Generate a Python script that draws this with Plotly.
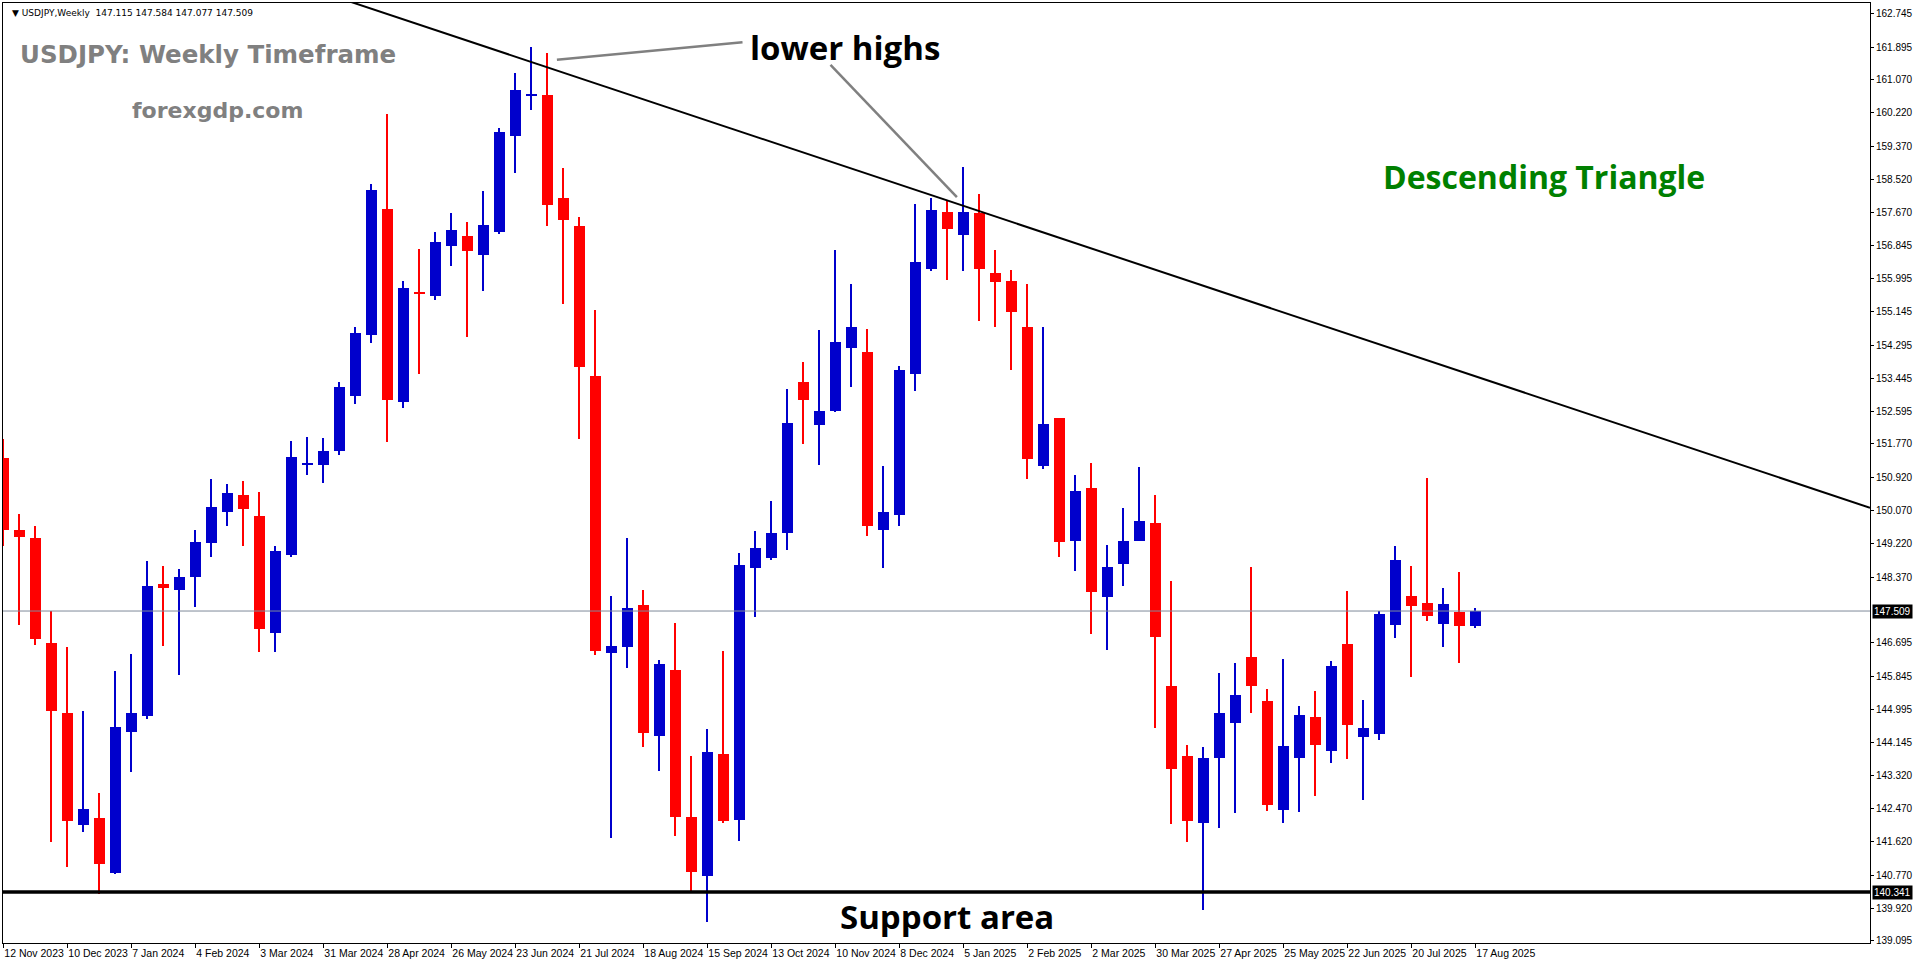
import plotly.graph_objects as go

open_ = [151.41,149.58,149.37,146.69,144.91,142.05,142.23,140.83,144.42,144.83,
         148.20,148.05,148.38,149.24,150.04,150.47,149.93,146.95,148.94,151.23,
         151.23,151.59,152.99,154.55,157.77,152.84,155.62,155.55,156.82,157.08,
         156.59,157.18,159.63,160.66,160.67,158.05,157.33,153.50,146.44,146.59,
         147.66,144.32,146.00,142.26,140.75,143.86,142.18,148.61,148.86,149.50,
         153.35,152.25,152.61,154.22,154.12,149.58,149.96,153.56,156.23,157.69,
         157.10,157.66,156.13,155.93,154.75,151.21,152.43,149.30,150.65,147.87,
         148.71,149.30,149.75,145.60,143.81,142.10,143.76,144.65,146.34,145.21,
         142.43,143.76,144.81,143.94,146.67,144.30,144.37,147.15,147.89,147.71,
         147.18,147.48,147.115]
high = [151.90,149.98,149.68,147.51,146.59,144.96,142.87,145.98,146.41,148.79,
        148.66,148.58,149.58,150.88,150.75,150.83,150.55,149.17,151.85,151.95,
        151.92,153.35,154.75,158.40,160.19,155.93,156.74,157.18,157.66,157.43,
        158.22,159.83,161.23,161.90,161.74,158.81,157.56,155.19,147.89,149.37,
        148.05,146.26,147.20,143.81,144.50,146.49,148.99,149.55,150.32,153.17,
        153.86,154.68,156.72,155.85,154.70,151.21,153.76,157.89,158.05,157.99,
        158.84,158.15,156.72,156.21,155.85,154.75,152.43,150.98,151.29,149.19,
        150.14,151.18,150.47,148.28,144.09,144.04,145.93,146.18,148.63,145.52,
        146.29,145.09,145.47,146.23,148.02,145.24,147.51,149.17,148.66,150.90,
        148.10,148.50,147.584]
low = [149.17,147.15,146.64,141.62,140.98,141.87,140.29,140.80,143.40,144.75,
       146.62,145.88,147.61,148.89,149.68,149.17,146.46,146.46,148.89,150.98,
       150.78,151.49,152.79,154.35,151.82,152.69,153.56,155.44,156.31,154.50,
       155.67,157.13,158.68,160.29,157.33,155.34,151.90,146.39,141.72,146.05,
       144.04,143.43,141.77,140.32,139.58,142.10,141.64,147.36,148.81,149.07,
       151.77,151.23,152.59,153.22,149.42,148.61,149.68,153.12,156.18,155.95,
       156.18,154.91,154.75,153.66,150.88,151.13,148.89,148.53,146.92,146.51,
       148.15,149.30,144.52,142.08,141.62,139.88,141.97,142.36,144.91,142.41,
       142.10,142.38,142.79,143.63,143.73,142.69,144.22,146.82,145.83,147.25,
       146.59,146.18,147.077]
close = [149.58,149.40,146.80,144.96,142.15,142.46,141.06,144.55,144.91,148.15,
         148.10,148.38,149.27,150.16,150.52,150.11,147.05,149.04,151.44,151.29,
         151.59,153.22,154.60,158.25,152.89,155.75,155.60,156.92,157.23,156.69,
         157.36,159.73,160.80,160.69,157.87,157.48,153.73,146.49,146.62,147.59,
         144.40,146.16,142.26,140.85,143.91,142.15,148.68,149.12,149.50,152.31,
         152.89,152.61,154.37,154.75,149.68,150.04,153.66,156.41,157.74,157.25,
         157.69,156.23,155.90,155.14,151.39,152.28,149.27,150.57,147.99,148.63,
         149.30,149.81,146.85,143.48,142.15,143.76,144.91,145.37,145.60,142.56,
         144.07,144.86,144.09,146.11,144.60,144.52,147.43,148.81,147.64,147.38,
         147.69,147.13,147.509]

date_labels = ["12 Nov 2023","10 Dec 2023","7 Jan 2024","4 Feb 2024","3 Mar 2024","31 Mar 2024",
               "28 Apr 2024","26 May 2024","23 Jun 2024","21 Jul 2024","18 Aug 2024","15 Sep 2024",
               "13 Oct 2024","10 Nov 2024","8 Dec 2024","5 Jan 2025","2 Feb 2025","2 Mar 2025",
               "30 Mar 2025","27 Apr 2025","25 May 2025","22 Jun 2025","20 Jul 2025","17 Aug 2025"]
price_ticks = ["162.745","161.895","161.070","160.220","159.370","158.520","157.670","156.845",
               "155.995","155.145","154.295","153.445","152.595","151.770","150.920","150.070",
               "149.220","148.370","146.695","145.845","144.995","144.145","143.320","142.470",
               "141.620","140.770","139.920","139.095"]
last_price = 147.509
support_level = 140.341
trend_pts_x = [29.8, 61.0]
trend_pts_y = [161.95, 157.71]

n = len(close)
idx = list(range(n))
BLUE, RED = "#0000CC", "#FF0000"
cols = [BLUE if c >= o else RED for o, c in zip(open_, close)]

fig = go.Figure()
fig.add_trace(go.Bar(x=idx, base=low, y=[h - l for h, l in zip(high, low)], width=0.075,
                     marker=dict(color=cols, line=dict(width=0)), hoverinfo="skip"))
fig.add_trace(go.Bar(x=idx, base=[min(o, c) for o, c in zip(open_, close)],
                     y=[max(abs(c - o), 0.05) for o, c in zip(open_, close)], width=0.69,
                     marker=dict(color=cols, line=dict(width=0)), hoverinfo="skip"))

xr = [-0.02, 116.67]
slope = (trend_pts_y[1] - trend_pts_y[0]) / (trend_pts_x[1] - trend_pts_x[0])
x_start = 21.0
fig.add_shape(type="line", x0=x_start, y0=trend_pts_y[0] + slope * (x_start - trend_pts_x[0]),
              x1=xr[1], y1=trend_pts_y[0] + slope * (xr[1] - trend_pts_x[0]),
              line=dict(color="black", width=2))
fig.add_shape(type="line", xref="paper", x0=0, x1=1, y0=last_price, y1=last_price,
              line=dict(color="#7F8A99", width=1))
fig.add_shape(type="line", xref="paper", x0=0, x1=1, y0=support_level, y1=support_level,
              line=dict(color="black", width=3.5))
fig.add_shape(type="line", x0=34.6, y0=161.57, x1=46.2, y1=162.02, line=dict(color="#808080", width=2.5))
fig.add_shape(type="line", x0=51.7, y0=161.44, x1=59.6, y1=158.07, line=dict(color="#808080", width=2.5))

def note(x, y, text, font, **kw):
    d = dict(x=x, y=y, xref="paper", yref="paper", xanchor="left", yanchor="middle",
             text=text, font=font, showarrow=False)
    d.update(kw)
    return d

ann = [
    note(0.004, 0.989, "▼ USDJPY,Weekly  147.115 147.584 147.077 147.509",
         dict(family="DejaVu Sans", size=9, color="black")),
    note(0.008, 0.945, "<b>USDJPY: Weekly Timeframe</b>", dict(family="DejaVu Sans", size=24.5, color="#808080")),
    note(0.068, 0.886, "<b>forexgdp.com</b>", dict(family="DejaVu Sans", size=22, color="#808080")),
    note(0.399, 0.953, "<b>lower highs</b>", dict(family="Open Sans", size=33, color="black")),
    note(0.738, 0.815, "<b>Descending Triangle</b>", dict(family="Open Sans", size=32, color="#008000")),
    note(0.447, 0.028, "<b>Support area</b>", dict(family="Open Sans", size=33, color="black")),
    note(1, last_price, f"{last_price:.3f}", dict(family="Liberation Sans", size=10, color="white"),
         yref="y", xshift=2, bgcolor="black", borderpad=1),
    note(1, support_level, f"{support_level:.3f}", dict(family="Liberation Sans", size=10, color="white"),
         yref="y", xshift=2, bgcolor="black", borderpad=1),
]

fig.update_layout(
    width=1916, height=964, margin=dict(l=3, r=46, t=3, b=21),
    paper_bgcolor="white", plot_bgcolor="white", showlegend=False, barmode="overlay",
    annotations=ann, bargap=0,
)
fig.update_xaxes(range=xr, tickvals=list(range(0, n, 4)), ticktext=date_labels, tickangle=0,
                 ticks="outside", ticklen=4, tickcolor="black", ticklabelposition="outside right",
                 tickfont=dict(family="Liberation Sans", size=10.5, color="black"),
                 showgrid=False, zeroline=False, showline=True, linecolor="black", mirror=True)
fig.update_yaxes(range=[139.04, 163.02], side="right", tickvals=[float(t) for t in price_ticks],
                 ticktext=price_ticks, ticks="outside", ticklen=3, tickcolor="black",
                 tickfont=dict(family="Liberation Sans", size=10, color="black"),
                 showgrid=False, zeroline=False, showline=True, linecolor="black", mirror=True,
                 automargin=False)
fig.write_html("out.html", config={"displayModeBar": False},
               post_script="document.body.style.margin='0';document.body.style.overflow='hidden';")
